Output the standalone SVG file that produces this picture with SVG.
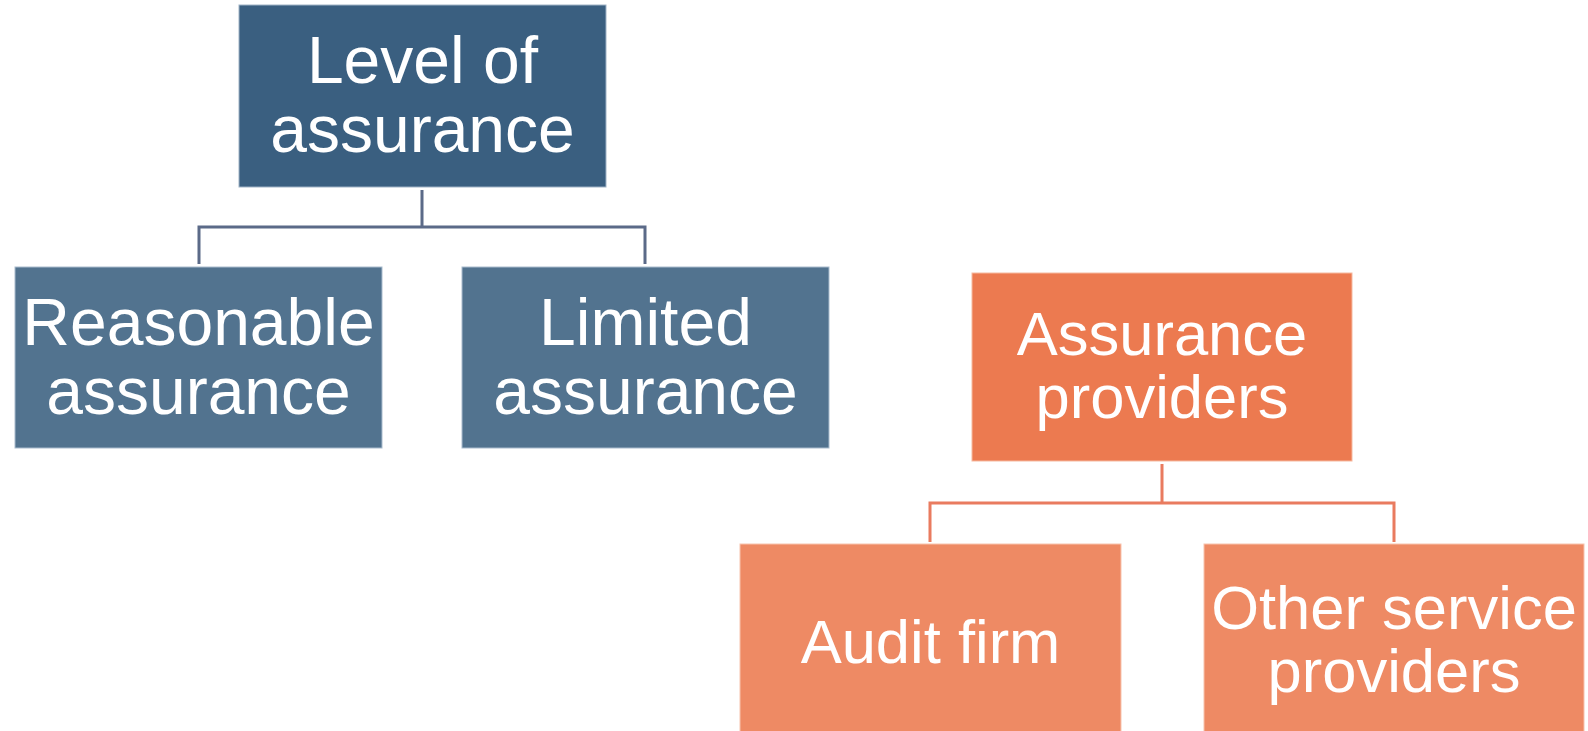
<svg xmlns="http://www.w3.org/2000/svg" width="1588" height="731" viewBox="0 0 1588 731">
<style>
.bg{fill:#ffffff}
.b1{fill:#3A5F80;stroke:#9fb3c6;stroke-width:1}
.b2{fill:#52738F;stroke:#a9bccd;stroke-width:1}
.o1{fill:#EC7A50;stroke:#f6b9a0;stroke-width:1}
.o2{fill:#EE8A64;stroke:#f8c3ae;stroke-width:1}
.t{font-family:"Liberation Sans",Arial,sans-serif;fill:#ffffff;text-anchor:middle}
.tb{font-size:66px}
.to{font-size:61.5px}
.cb{fill:none;stroke:#5B6A88;stroke-width:3}
.co{fill:none;stroke:#E97B5F;stroke-width:3}
</style>
<rect class="bg" x="0" y="0" width="1588" height="731"/>
<g id="connectors">
<path class="cb" d="M422,190 V227 M199,264 V227 H645 V264"/>
<path class="co" d="M1162,464 V503 M930,542 V503 H1394 V542"/>
</g>
<g id="level">
<rect class="b1" x="239" y="5" width="367" height="182"/>
<text class="t tb" x="422.5" y="83">Level of</text>
<text class="t tb" x="422.5" y="152">assurance</text>
</g>
<g id="reasonable">
<rect class="b2" x="15" y="267" width="367" height="181"/>
<text class="t tb" x="198.5" y="344.5">Reasonable</text>
<text class="t tb" x="198.5" y="413.5">assurance</text>
</g>
<g id="limited">
<rect class="b2" x="462" y="267" width="367" height="181"/>
<text class="t tb" x="645.5" y="344.5">Limited</text>
<text class="t tb" x="645.5" y="413.5">assurance</text>
</g>
<g id="providers">
<rect class="o1" x="972" y="273" width="380" height="188"/>
<text class="t to" x="1162" y="355">Assurance</text>
<text class="t to" x="1162" y="418">providers</text>
</g>
<g id="audit">
<rect class="o2" x="740" y="544" width="381" height="188"/>
<text class="t to" x="930.5" y="663">Audit firm</text>
</g>
<g id="other">
<rect class="o2" x="1204" y="544" width="380" height="188"/>
<text class="t to" x="1394" y="629">Other service</text>
<text class="t to" x="1394" y="692">providers</text>
</g>
</svg>
